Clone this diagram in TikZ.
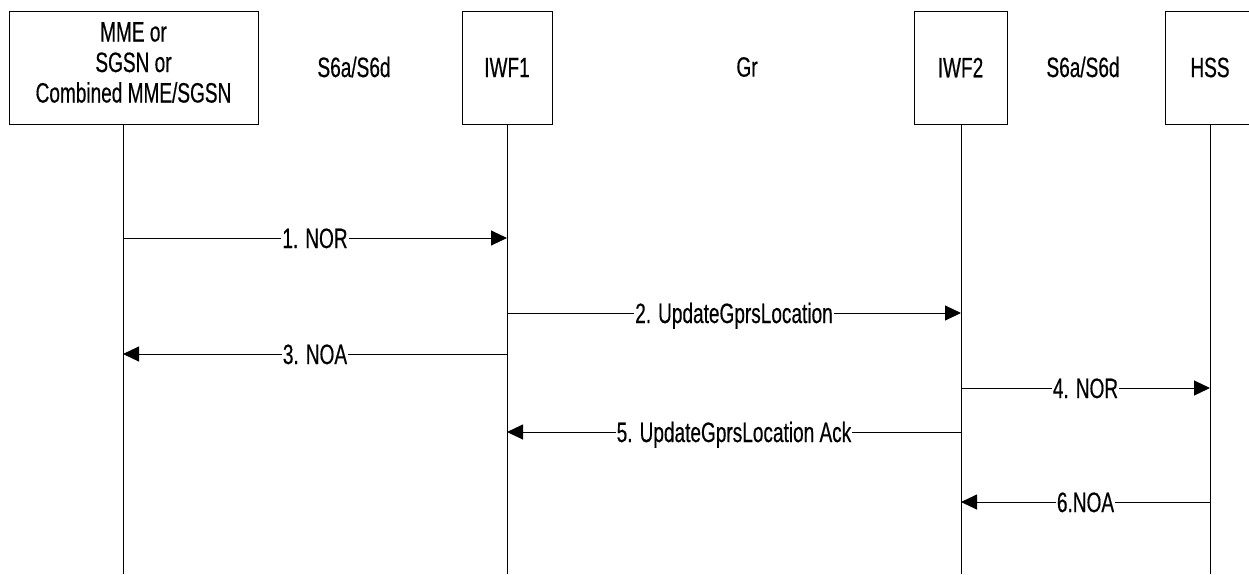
\documentclass[tikz,border=0pt]{standalone}
\usepackage{fontspec}
\setmainfont{Liberation Sans}[FakeStretch=0.68,FakeBold=0.4]
\usetikzlibrary{arrows.meta,positioning}
\tikzset{
  entity/.style={draw,line width=1pt,minimum height=113pt,inner sep=0pt,
                 align=center},
  lifeline/.style={line width=1pt},
  msg/.style={-{Triangle[length=16pt,width=15pt]},line width=1pt},
  msglbl/.style={fill=white,inner xsep=1pt,inner ysep=0pt,anchor=base,
                 yshift=-10pt},
}

\begin{document}
\begin{tikzpicture}[x=1pt,y=-1pt,font=\fontsize{28}{30.5}\selectfont]
  \useasboundingbox (0,0) rectangle (1249,574);

  % Entities
  \node[entity,minimum width=249pt,
        label={[align=center,yshift=5pt]center:MME or\\SGSN or\\Combined MME/SGSN}]
    (mme) at (133.5,67.5) {};
  \node[entity,minimum width=90pt] (iwf1) at (507,67.5) {IWF1};
  \node[entity,minimum width=93pt] (iwf2) at (960.5,67.5) {IWF2};
  \node[entity,minimum width=90pt] (hss) at (1210,67.5) {HSS};

  % Interfaces
  \node (s6left) at (354,67) {S6a/S6d};
  \node (gr) at (747,67) {Gr};
  \node (s6right) at (1083,67) {S6a/S6d};

  % Lifelines
  \coordinate (lmme) at (123,124);
  \coordinate (liwf1) at (iwf1.south);
  \coordinate (liwf2) at (961,124);
  \coordinate (lhss) at (hss.south);
  \foreach \l in {lmme,liwf1,liwf2,lhss}{
    \draw[lifeline] (\l) -- (\l |- 0,574);
  }

  % Messages
  \foreach \from/\to/\y/\lbl in {
      lmme/liwf1/238/{1. NOR},
      liwf1/liwf2/313/{2. UpdateGprsLocation},
      liwf1/lmme/354/{3. NOA},
      liwf2/lhss/388/{4. NOR},
      liwf2/liwf1/432/{5. UpdateGprsLocation Ack},
      lhss/liwf2/502/{6.NOA}}{
    \draw[msg] (\from |- 0,\y) -- node[msglbl]{\lbl} (\to |- 0,\y);
  }
\end{tikzpicture}
\end{document}
